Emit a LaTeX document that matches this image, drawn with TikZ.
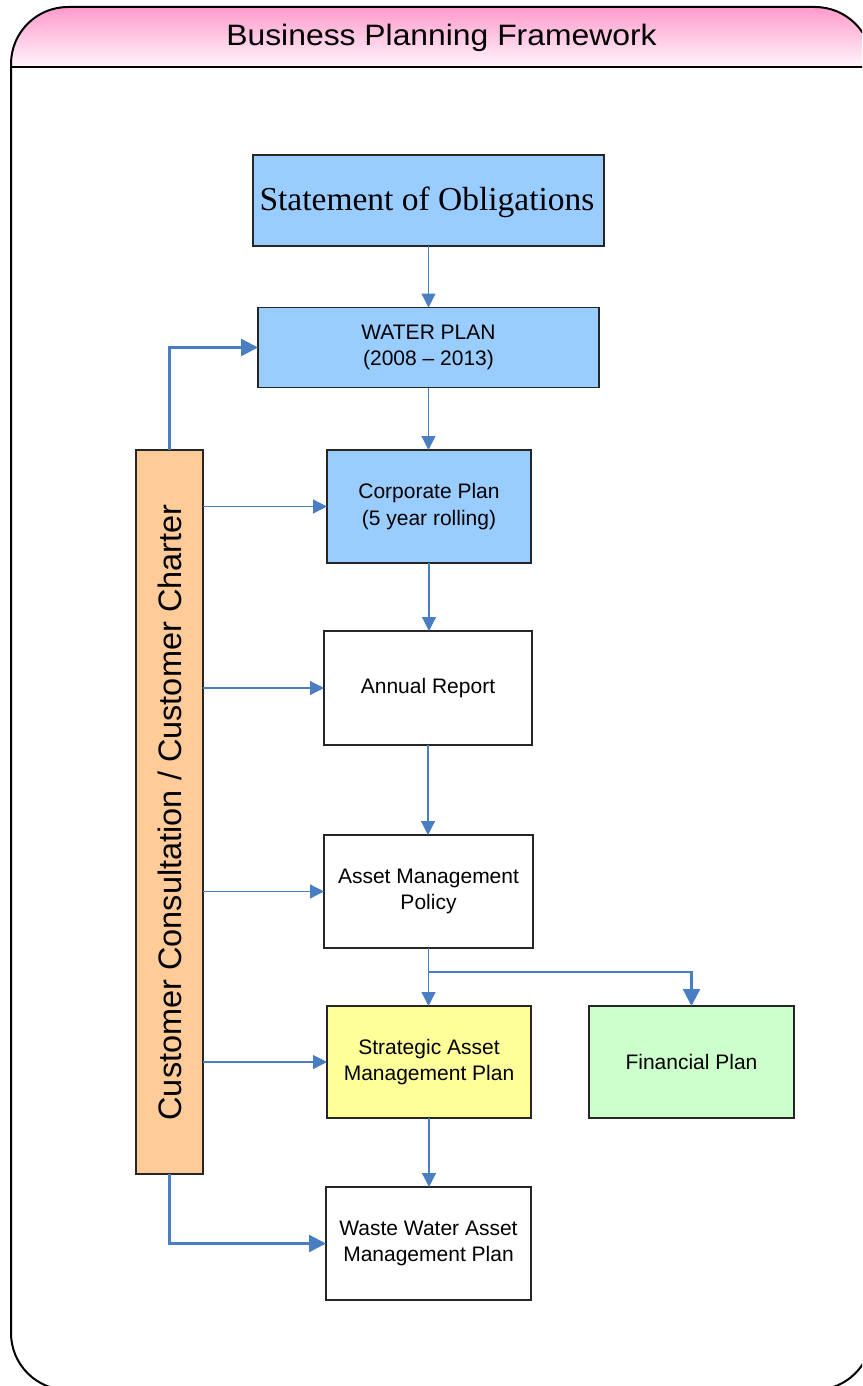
\documentclass[tikz,border=0pt]{standalone}
\usepackage{fontspec}
\setmainfont{Liberation Sans}
\newfontfamily\soofont{Liberation Serif}
\usetikzlibrary{arrows.meta}
\definecolor{lineblue}{HTML}{4A7EC2}
\definecolor{boxblue}{HTML}{99CCFF}
\definecolor{boxorange}{HTML}{FFCC99}
\definecolor{boxyellow}{HTML}{FFFF99}
\definecolor{boxgreen}{HTML}{CCFFCC}
\definecolor{hdrtop}{HTML}{FF99CC}
\definecolor{hdrbot}{HTML}{FFF6FB}
\definecolor{boxline}{HTML}{262626}
\tikzset{
  planbox/.style={draw=boxline, line width=1.2pt, inner sep=0pt, outer sep=0pt,
    align=center, font=\fontsize{21}{26.5}\selectfont},
  conn/.style={draw=lineblue, line width=1.2pt, -{Triangle[length=14pt,width=14pt]}},
  thickconn/.style={draw=lineblue, line width=2.4pt, -{Triangle[length=17pt,width=17pt]}},
}
\begin{document}
\begin{tikzpicture}[x=1pt,y=-1pt]
\clip (0,0) rectangle (862,1386);
\fill[white] (0,0) rectangle (862,1386);
% header gradient
\begin{scope}
  \clip[rounded corners=57pt] (11,7) rectangle (872,1390);
  \shade[top color=hdrtop, bottom color=hdrbot] (0,6) rectangle (880,67);
\end{scope}
\draw[line width=2pt, rounded corners=57pt] (11,7) rectangle (872,1390);
\draw[line width=2pt] (11,67) -- (872,67);
\node[anchor=base, inner sep=0pt] (title) at (441.5,46)
  {\fontsize{29.5}{32}\selectfont\scalebox{1.08}[1]{Business Planning Framework}};

% boxes
\node[planbox, fill=boxblue, minimum width=351pt, minimum height=91pt] (soo) at (428.5,200.5) {};
\node[anchor=base, inner sep=0pt] (sootext) at (427,210)
  {\soofont\fontsize{33.5}{36}\selectfont Statement of Obligations};
\node[planbox, fill=boxblue, minimum width=341pt, minimum height=80pt] (water) at (428.5,347.5)
  {WATER PLAN\\(2008 -- 2013)};
\node[planbox, fill=boxblue, minimum width=204pt, minimum height=113pt] (corp) at (429,506.5)
  {Corporate Plan\\(5 year rolling)};
\node[planbox, fill=white, minimum width=208pt, minimum height=114pt] (annual) at (428,688)
  {Annual Report};
\node[planbox, fill=white, minimum width=209pt, minimum height=113pt] (amp) at (428.5,891.5)
  {Asset Management\\Policy};
\node[planbox, fill=boxyellow, minimum width=204pt, minimum height=112pt] (strat) at (429,1062)
  {Strategic Asset\\Management Plan};
\node[planbox, fill=boxgreen, minimum width=205pt, minimum height=112pt] (fin) at (691.5,1062)
  {Financial Plan};
\node[planbox, fill=white, minimum width=205pt, minimum height=113pt] (waste) at (428.5,1243.5)
  {Waste Water Asset\\Management Plan};
\node[planbox, fill=boxorange, minimum width=67pt, minimum height=724pt] (cust) at (169.5,812) {};
\node[rotate=90, anchor=base, inner sep=0pt] (custtext) at (181,812.5)
  {\fontsize{32.5}{36}\selectfont Customer Consultation / Customer Charter};

% vertical flow
\draw[conn] (soo.south -| water.north) -- (water.north);
\draw[conn] (water.south) -- (water.south |- corp.north);
\draw[conn] (corp.south) -- (corp.south |- annual.north);
\draw[conn] (annual.south) -- (annual.south |- amp.north);
\draw[conn] (amp.south) -- (amp.south |- strat.north);
\draw[conn] (strat.south) -- (strat.south |- waste.north);
\coordinate (branch) at (428.5,972);
\draw[thickconn] (branch) -| (fin.north);

% customer links
\draw[thickconn] (cust.north) |- (water.west);
\draw[conn] (cust.east |- corp.west) -- (corp.west);
\draw[conn] (cust.east |- annual.west) -- (annual.west);
\draw[conn] (cust.east |- amp.west) -- (amp.west);
\draw[conn] (cust.east |- strat.west) -- (strat.west);
\draw[thickconn] (cust.south) |- (waste.west);
\end{tikzpicture}
\end{document}
